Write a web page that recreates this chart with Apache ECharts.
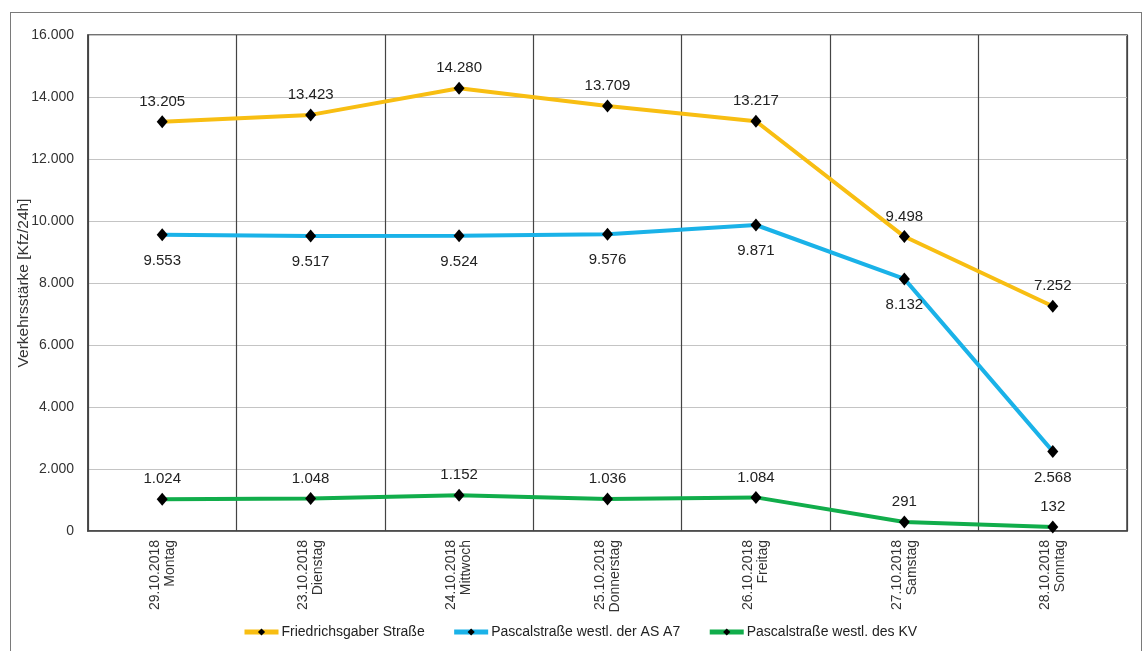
<!DOCTYPE html>
<html>
<head>
<meta charset="utf-8">
<script src="https://cdn.jsdelivr.net/npm/echarts@6/dist/echarts.min.js"></script>
<style>
  html, body { margin: 0; padding: 0; background: #fff; }
  #frame { position: absolute; left: 10px; top: 12px; width: 1132px; height: 660px; border: 1px solid #7a7a7a; box-sizing: border-box; }
  #main { position: absolute; left: 0; top: 0; width: 1144px; height: 651px; }
</style>
</head>
<body>
<div id="frame"></div>
<div id="main"></div>
<script>
// Kategorien (Datum + Wochentag)
const days = [
  "29.10.2018\nMontag",
  "23.10.2018\nDienstag",
  "24.10.2018\nMittwoch",
  "25.10.2018\nDonnerstag",
  "26.10.2018\nFreitag",
  "27.10.2018\nSamstag",
  "28.10.2018\nSonntag"
];
// Verkehrsstärken [Kfz/24h]
const friedrichsgaber = [13205, 13423, 14280, 13709, 13217, 9498, 7252];
const pascalA7 = [9553, 9517, 9524, 9576, 9871, 8132, 2568];
const pascalKV = [1024, 1048, 1152, 1036, 1084, 291, 132];

// Tausenderpunkt wie im Original
const fmt = v => String(v).replace(/\B(?=(\d{3})+(?!\d))/g, ".");

const font = "Liberation Sans, Arial, sans-serif";

function lineSeries(name, data, color, pos, dist) {
  return {
    name: name,
    type: "line",
    data: data,
    symbol: "diamond",
    symbolSize: [11, 13],
    lineStyle: { color: color, width: 4 },
    itemStyle: { color: "#000" },
    label: {
      show: true,
      position: pos,
      distance: dist,
      color: "#222",
      fontSize: 15,
      fontFamily: font,
      formatter: p => fmt(p.value)
    },
    z: 3
  };
}

const myChart = echarts.init(document.getElementById("main"));
myChart.setOption({
  animation: false,
  textStyle: { fontFamily: font },
  grid: {
    left: 88, top: 35, right: 17, bottom: 120,
    show: true,
    borderColor: "#444",
    borderWidth: 1.5
  },
  legend: {
    bottom: 7,
    left: 237,
    itemWidth: 34,
    itemHeight: 9,
    itemGap: 27,
    lineStyle: { width: 5 },
    textStyle: { fontSize: 14, color: "#222", fontFamily: font, padding: [0, 0, 0, -2] },
    data: ["Friedrichsgaber Straße", "Pascalstraße westl. der AS A7", "Pascalstraße westl. des KV"]
  },
  xAxis: {
    type: "category",
    data: days,
    boundaryGap: true,
    axisLine: { lineStyle: { color: "#444", width: 1.5 } },
    axisTick: { show: false },
    splitLine: { show: true, lineStyle: { color: "#444", width: 1.2 } },
    axisLabel: {
      rotate: 90,
      margin: 9,
      fontSize: 14,
      color: "#333",
      fontFamily: font,
      lineHeight: 15
    }
  },
  yAxis: {
    type: "value",
    min: 0,
    max: 16000,
    interval: 2000,
    name: "Verkehrsstärke [Kfz/24h]",
    nameLocation: "middle",
    nameGap: 56,
    nameMoveOverlap: false,
    nameTextStyle: { fontSize: 15.5, color: "#333", fontFamily: font },
    axisLine: { show: true, lineStyle: { color: "#444", width: 1.5 } },
    axisTick: { show: false },
    splitLine: { lineStyle: { color: "#c4c4c4", width: 1.2 } },
    axisLabel: {
      fontSize: 14,
      color: "#333",
      margin: 14,
      fontFamily: font,
      formatter: v => fmt(v)
    }
  },
  series: [
    lineSeries("Friedrichsgaber Straße", friedrichsgaber, "#F8BE12", "top", 6),
    lineSeries("Pascalstraße westl. der AS A7", pascalA7, "#1AB2E8", "bottom", 12),
    lineSeries("Pascalstraße westl. des KV", pascalKV, "#11AD4B", "top", 6)
  ]
});
</script>
</body>
</html>
